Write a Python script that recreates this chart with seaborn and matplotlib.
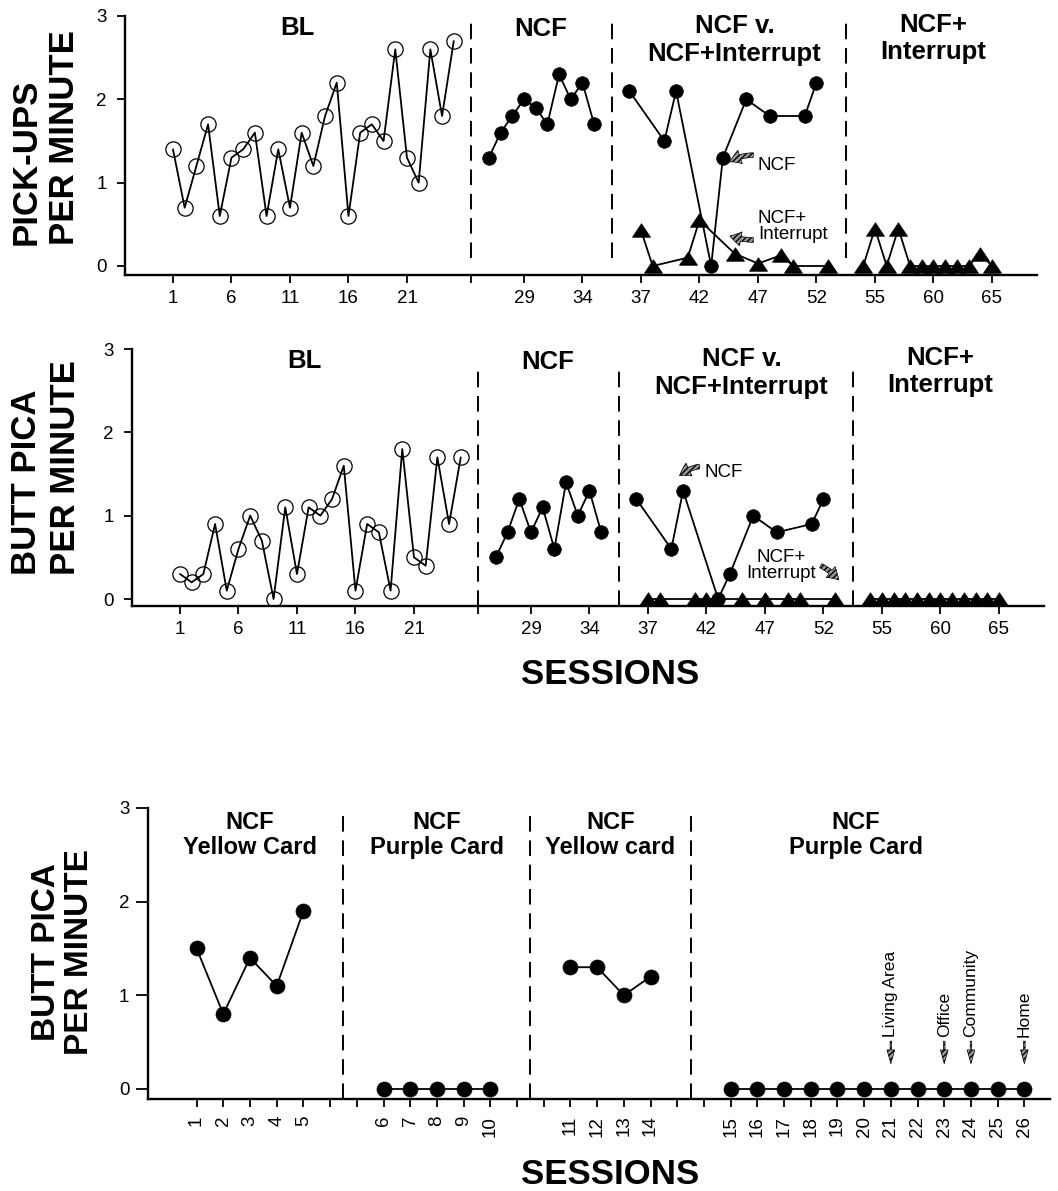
import numpy as np
import matplotlib
matplotlib.use("Agg")
import matplotlib.pyplot as plt
import seaborn as sns
from matplotlib.markers import MarkerStyle
from matplotlib.path import Path

# ---------------- data ----------------
# panels 1 and 2: sessions of each condition
bl_sessions = list(range(1, 26))
ncf_sessions = list(range(26, 36))
cmp_ncf_sessions = [36, 39, 40, 43, 44, 46, 48, 51, 52]
cmp_int_sessions = [37, 38, 41, 42, 45, 47, 49, 50, 53]
int_sessions = list(range(54, 66))
phase_starts = [1, 26, 36, 54]

# pick-ups per minute
pick_bl = [1.4, 0.7, 1.2, 1.7, 0.6, 1.3, 1.4, 1.6, 0.6, 1.4, 0.7, 1.6, 1.2,
           1.8, 2.2, 0.6, 1.6, 1.7, 1.5, 2.6, 1.3, 1.0, 2.6, 1.8, 2.7]
pick_ncf = [1.3, 1.6, 1.8, 2.0, 1.9, 1.7, 2.3, 2.0, 2.2, 1.7]
pick_cmp_ncf = [2.1, 1.5, 2.1, 0.0, 1.3, 2.0, 1.8, 1.8, 2.2]
pick_cmp_int = [0.43, 0.0, 0.1, 0.55, 0.15, 0.03, 0.13, 0.0, 0.0]
pick_int = [0.0, 0.45, 0.0, 0.45, 0.0, 0.0, 0.0, 0.0, 0.0, 0.0, 0.15, 0.0]

# butt pica per minute
butt_bl = [0.3, 0.2, 0.3, 0.9, 0.1, 0.6, 1.0, 0.7, 0.0, 1.1, 0.3, 1.1, 1.0,
           1.2, 1.6, 0.1, 0.9, 0.8, 0.1, 1.8, 0.5, 0.4, 1.7, 0.9, 1.7]
butt_ncf = [0.5, 0.8, 1.2, 0.8, 1.1, 0.6, 1.4, 1.0, 1.3, 0.8]
butt_cmp_ncf = [1.2, 0.6, 1.3, 0.0, 0.3, 1.0, 0.8, 0.9, 1.2]
butt_cmp_int = [0.0, 0.0, 0.0, 0.0, 0.0, 0.0, 0.0, 0.0, 0.0]
butt_int = [0.0, 0.0, 0.0, 0.0, 0.0, 0.0, 0.0, 0.0, 0.0, 0.0, 0.0, 0.0]

top_ticks = [1, 6, 11, 16, 21, 29, 34, 37, 42, 47, 52, 55, 60, 65]
top_phase_labels = ["BL", "NCF", "NCF v.\nNCF+Interrupt", "NCF+\nInterrupt"]

# panel 3: card conditions
card_labels = ["NCF\nYellow Card", "NCF\nPurple Card", "NCF\nYellow card", "NCF\nPurple Card"]
card_sessions = [[1, 2, 3, 4, 5], [6, 7, 8, 9, 10], [11, 12, 13, 14],
                 [15, 16, 17, 18, 19, 20, 21, 22, 23, 24, 25, 26]]
card_values = [[1.5, 0.8, 1.4, 1.1, 1.9], [0.0, 0.0, 0.0, 0.0, 0.0], [1.3, 1.3, 1.0, 1.2],
               [0.0, 0.0, 0.0, 0.0, 0.0, 0.0, 0.0, 0.0, 0.0, 0.0, 0.0, 0.0]]
card_starts = [1, 6, 11, 15]
setting_sessions = [21, 23, 24, 26]
setting_labels = ["Living Area", "Office", "Community", "Home"]

# ---------------- layout ----------------
GAP = 2  # empty slots between phases


def to_pos(sessions, starts):
    s = np.asarray(sessions, dtype=float)
    return s + GAP * (np.searchsorted(starts, s, side="right") - 1)


sns.set_style("ticks")
plt.rcParams["font.family"] = ["Liberation Sans", "DejaVu Sans"]
plt.rcParams.update({"text.color": "black", "axes.labelcolor": "black",
                     "xtick.color": "black", "ytick.color": "black",
                     "axes.edgecolor": "black"})

W, H = 1058, 1191
fig = plt.figure(figsize=(W / 100, H / 100), dpi=100)


def px_axes(left, top, right, bottom):
    return fig.add_axes([left / W, 1 - bottom / H, (right - left) / W, (bottom - top) / H])


def fig_text(x, y, s, **kw):
    fig.text(x / W, 1 - y / H, s, **kw)


tri = MarkerStyle(Path([(-1, -0.75), (1, -0.75), (0, 0.75), (-1, -0.75)], closed=True))
OPEN = dict(marker="o", markersize=11, markerfacecolor="none",
            markeredgecolor="black", markeredgewidth=0.9)
FILLED = dict(marker="o", markersize=9.8, markerfacecolor="black",
              markeredgecolor="black", markeredgewidth=0.5)
TRI = dict(marker=tri, markersize=13, markerfacecolor="black",
           markeredgecolor="black", markeredgewidth=0.5)


def series(ax, x, y, style):
    sns.lineplot(x=x, y=y, ax=ax, color="black", linewidth=1.3, estimator=None,
                 sort=False, legend=False, **style)


def style_axes(ax):
    for side in ("top", "right"):
        ax.spines[side].set_visible(False)
    for side in ("left", "bottom"):
        ax.spines[side].set_linewidth(1.7)
        ax.spines[side].set_color("black")
    ax.set_xlabel("")
    ax.set_ylabel("")
    ax.set_yticks([0, 1, 2, 3])
    ax.set_yticklabels(["0", "1", "2", "3"])


arrow_kw = dict(arrowstyle="simple,head_length=0.6,head_width=0.75,tail_width=0.25",
                fc="0.6", ec="black", lw=0.5, hatch="//////", shrinkA=1, shrinkB=0)

phase_lines = [26.5, 38.5, 58.5]
phase_label_x = [11.6, 32.4, 49.0, 66.0]
phase_label_y = [2.86, 2.84, 2.71, 2.73]


def session_panel(ax, bl, ncf, cmp_ncf, cmp_int, intr, ybot, line_span):
    series(ax, to_pos(bl_sessions, phase_starts), bl, OPEN)
    series(ax, to_pos(ncf_sessions, phase_starts), ncf, FILLED)
    series(ax, to_pos(cmp_ncf_sessions, phase_starts), cmp_ncf, FILLED)
    series(ax, to_pos(cmp_int_sessions, phase_starts), cmp_int, TRI)
    series(ax, to_pos(int_sessions, phase_starts), intr, TRI)
    ax.vlines(phase_lines, line_span[0], line_span[1], colors="black",
              linewidth=1.4, linestyles=(0, (8, 4.5)))
    for lab, x, y in zip(top_phase_labels, phase_label_x, phase_label_y):
        ax.text(x, y, lab, ha="center", va="center", fontsize=18.5,
                fontweight="bold", clip_on=False)
    ax.set_xlim(-3.1, 74.85)
    ax.set_ylim(ybot, 3.0)
    style_axes(ax)
    ticks = list(to_pos(top_ticks, phase_starts))
    ax.set_xticks(ticks + [phase_lines[0]])
    ax.set_xticklabels([str(t) for t in top_ticks] + [""])
    ax.tick_params(axis="both", direction="out", length=6, width=1.3, colors="black")
    ax.tick_params(axis="x", labelsize=13.5, pad=5)
    ax.tick_params(axis="y", labelsize=13.5, pad=7)


# ---- panel 1: pick-ups ----
ax1 = px_axes(125, 16, 1037, 275)
session_panel(ax1, pick_bl, pick_ncf, pick_cmp_ncf, pick_cmp_int, pick_int,
              -0.108, (0.1, 2.92))
ax1.annotate("NCF", xy=(48.6, 1.25), xytext=(51.0, 1.21), ha="left", va="center",
             fontsize=13.5, arrowprops=dict(connectionstyle="arc3,rad=0.35", **arrow_kw))
ax1.annotate("NCF+\nInterrupt", xy=(48.6, 0.36), xytext=(51.0, 0.47), ha="left",
             va="center", fontsize=13.5, linespacing=0.9,
             arrowprops=dict(connectionstyle="arc3,rad=-0.25", **arrow_kw))
fig_text(45, 138, "PICK-UPS\nPER MINUTE", rotation=90, ha="center", va="center",
         multialignment="left", fontsize=25, fontweight="bold")

# ---- panel 2: butt pica ----
ax2 = px_axes(132, 349, 1044, 606)
session_panel(ax2, butt_bl, butt_ncf, butt_cmp_ncf, butt_cmp_int, butt_int,
              -0.084, (-0.084, 2.8))
ax2.annotate("NCF", xy=(43.7, 1.48), xytext=(45.8, 1.52), ha="left", va="center",
             fontsize=13.5, arrowprops=dict(connectionstyle="arc3,rad=0.35", **arrow_kw))
ax2.annotate("NCF+\nInterrupt", xy=(57.3, 0.23), xytext=(52.4, 0.40), ha="center",
             va="center", multialignment="center", fontsize=13.5, linespacing=0.9,
             arrowprops=dict(connectionstyle="arc3,rad=-0.35", **arrow_kw))
fig_text(46, 468, "BUTT PICA\nPER MINUTE", rotation=90, ha="center", va="center",
         multialignment="left", fontsize=25, fontweight="bold")
fig_text(610, 675, "SESSIONS", ha="center", va="center", fontsize=25, fontweight="bold")

# ---- panel 3: card conditions ----
ax3 = px_axes(148, 808, 1050, 1099)
BIG = dict(FILLED, markersize=10.8)
for sess, vals in zip(card_sessions, card_values):
    series(ax3, to_pos(sess, card_starts), vals, BIG)
card_lines = [6.5, 13.5, 19.5]
ax3.vlines(card_lines, -0.107, 2.98, colors="black", linewidth=1.4,
           linestyles=(0, (8, 4.5)))
card_label_x = [3.0, 10.0, 16.5, 25.7]
for lab, x in zip(card_labels, card_label_x):
    ax3.text(x, 2.71, lab, ha="center", va="center", fontsize=17,
             fontweight="bold", linespacing=1.1)
for s, lab in zip(setting_sessions, setting_labels):
    x = to_pos([s], card_starts)[0]
    ax3.text(x, 0.56, lab, rotation=90, ha="center", va="bottom", fontsize=12.5)
    ax3.annotate("", xy=(x, 0.27), xytext=(x, 0.51),
                 arrowprops=dict(arrowstyle="simple,head_length=0.9,head_width=0.5,tail_width=0.1",
                                 fc="0.6", ec="black", lw=0.5, hatch="//////",
                                 shrinkA=0, shrinkB=0, mutation_scale=11))
ax3.set_xlim(-0.82, 32.96)
ax3.set_ylim(-0.107, 3.0)
style_axes(ax3)
all_pos = list(range(1, 33))
sess_pos = {int(p): s for sess in card_sessions for p, s in zip(to_pos(sess, card_starts), sess)}
ax3.set_xticks(all_pos)
ax3.set_xticklabels([str(sess_pos[p]) if p in sess_pos else "" for p in all_pos],
                    rotation=90)
ax3.tick_params(axis="both", direction="out", length=6, width=1.3, colors="black")
ax3.tick_params(axis="y", length=8.5, labelsize=13.5, pad=5)
ax3.tick_params(axis="x", labelsize=13.5, pad=6)
fig_text(63, 952, "BUTT PICA\nPER MINUTE", rotation=90, ha="center", va="center",
         multialignment="center", fontsize=24, fontweight="bold", linespacing=1.05)
fig_text(610, 1175, "SESSIONS", ha="center", va="center", fontsize=25, fontweight="bold")

fig.savefig("out.png", dpi=100)
